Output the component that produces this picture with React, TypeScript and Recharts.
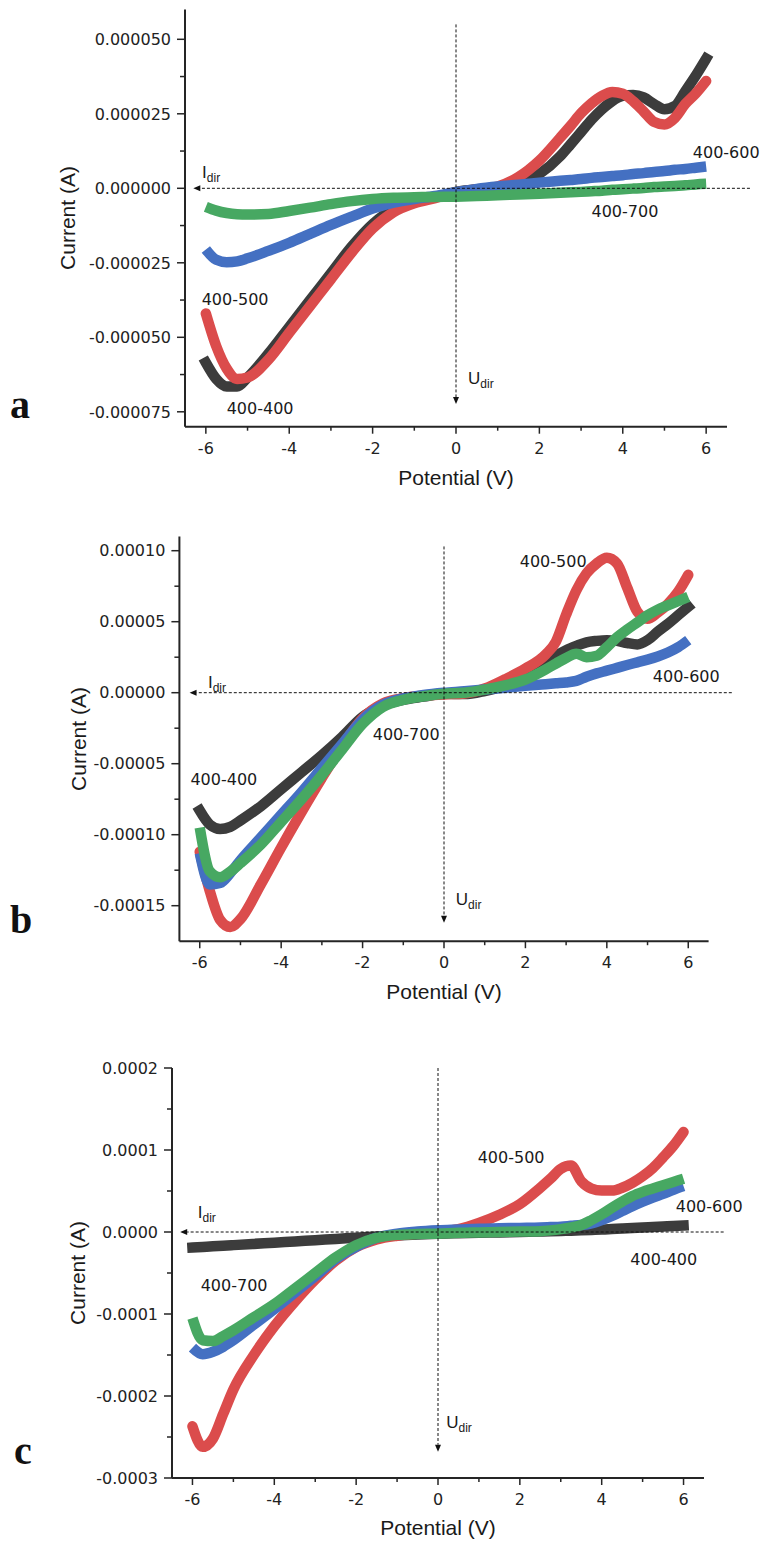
import React from 'react';
import { LineChart, Line, XAxis, YAxis, ReferenceLine, ReferenceDot } from 'recharts';

// Potential sweep (V), shared by every series
const potentials = [-6, -5.75, -5.5, -5.25, -5, -4.5, -4, -3.5, -3, -2.5, -2, -1.5, -1, -0.5, 0, 0.5, 1, 1.5, 2, 2.5, 2.75, 3, 3.25, 3.5, 3.75, 4, 4.25, 4.5, 4.75, 5, 5.25, 5.5, 5.75, 6];

// Panel a currents (µA)
const aBlack = [-58.5, -64, -66.5, -66.5, -63.5, -55.5, -46.5, -37.5, -28.5, -19.5, -12, -7, -4.5, -3, -1.2, -0.3, 0.1, 1.3, 4.8, 10.8, 14.8, 18.9, 23, 26.5, 29.3, 31, 31.3, 30.5, 28.3, 26.5, 27.6, 32.6, 37.8, 43.5];
const aRed = [-42, -53, -60.5, -64, -63.5, -57.5, -48.5, -39.5, -30.5, -21.5, -13.5, -8, -5, -3.3, -1.5, -0.4, 0.6, 3.8, 9.3, 17, 21, 25.2, 28.5, 31, 32.3, 31.7, 29.2, 25.8, 22.3, 21.4, 23.6, 28.3, 31.8, 36];
const aBlue = [-20.5, -24, -24.8, -24.5, -23.5, -21, -18.3, -15.3, -12.3, -9.5, -6.8, -4.8, -3.6, -2.6, -1.3, -0.2, 0.6, 1.2, 1.9, 2.5, 2.8, 3.1, 3.5, 3.8, 4.1, 4.4, 4.8, 5.1, 5.5, 5.8, 6.2, 6.5, 6.9, 7.3];
const aGreen = [-6.2, -7.5, -8.3, -8.7, -8.8, -8.6, -7.6, -6.5, -5.3, -4.3, -3.6, -3.2, -3.0, -2.9, -2.8, -2.6, -2.3, -2.1, -1.8, -1.5, -1.35, -1.2, -1, -0.8, -0.5, -0.3, -0.1, 0.1, 0.4, 0.6, 0.8, 1.0, 1.3, 1.5];

// Panel b currents (µA)
const bBlack = [-83, -93, -96, -94.5, -90, -80, -68, -56, -44, -31, -17, -9, -5, -2.8, -0.8, -1.0, 1.2, 5, 12, 21, 26, 30, 33, 35.5, 36.5, 37, 36.5, 35, 34, 37, 43, 48.5, 54.5, 60.5];
const bRed = [-112, -140, -160, -165, -159.5, -135, -109, -84, -60, -37.5, -18, -7.5, -3.8, -2, -1.2, -0.5, 3, 9.5, 17, 27, 36, 55, 72, 84, 91, 95, 91, 74, 57, 52, 56.5, 62.5, 71, 83];
const bBlue = [-113, -135, -134, -127, -118, -102, -86, -70, -53, -36, -19, -8.5, -4, -1.5, 0, 1, 2.2, 3.5, 4.8, 6, 6.6, 7.2, 8.3, 11.2, 13.6, 15.5, 17.5, 19.5, 21.4, 23.3, 25.5, 28.3, 32, 37];
const bGreen = [-95, -126, -130, -126, -120, -107, -91, -75, -58, -40, -22, -10, -5, -2.5, -0.8, 0, 2.2, 5.2, 9.3, 16.5, 20.5, 24.5, 27.5, 25, 26, 32, 39, 44.5, 49.5, 54.5, 58.5, 61.5, 64.5, 67.5];

// Panel c currents (µA)
const cBlack = [-19, -18.3, -17.5, -16.8, -16, -14.5, -13, -11.5, -10, -8.5, -7, -5.5, -4.3, -3.2, -2.2, -1.5, -1, -0.5, 0, 0.5, 0.8, 1.2, 1.6, 2, 2.5, 3, 3.6, 4.2, 4.8, 5.4, 6, 6.7, 7.3, 8];
const cRed = [-237, -262, -252, -222, -192, -150, -115, -85, -58, -35, -18.5, -9, -4.5, -2, 0, 3.5, 11, 21, 34, 54, 65, 77, 81, 62, 53, 50.5, 50.5, 54, 60, 68, 78, 91, 105, 122];
const cBlue = [-141, -149, -146, -140, -132, -113, -94, -74, -54, -33, -18, -7, -2, 0.5, 2, 3, 4, 4.5, 5, 5.5, 6, 6.5, 7.5, 8.5, 10.5, 14.5, 19.5, 25.5, 31.5, 37, 42, 46.5, 51.5, 56];
const cGreen = [-105, -132, -133, -127, -120, -104, -88, -69, -50, -31, -16, -7, -3.5, -2.5, -2, -1, -0.5, 0, 0.5, 1, 2, 3.5, 5.5, 8.5, 14.5, 21.5, 29.5, 37, 44, 49, 53, 57, 61, 65];

// Axis ticks
const xTicks = [-6, -5, -4, -3, -2, -1, 0, 1, 2, 3, 4, 5, 6];
const xMajor = [-6, -4, -2, 0, 2, 4, 6];
const aYTicks = [-75, -62.5, -50, -37.5, -25, -12.5, 0, 12.5, 25, 37.5, 50];
const aYMajor = [-75, -50, -25, 0, 25, 50];
const aYLabels = ['-0.000075', '-0.000050', '-0.000025', '0.000000', '0.000025', '0.000050'];
const bYTicks = [-150, -125, -100, -75, -50, -25, 0, 25, 50, 75, 100];
const bYMajor = [-150, -100, -50, 0, 50, 100];
const bYLabels = ['-0.00015', '-0.00010', '-0.00005', '0.00000', '0.00005', '0.00010'];
const cYTicks = [-300, -250, -200, -150, -100, -50, 0, 50, 100, 150, 200];
const cYMajor = [-300, -200, -100, 0, 100, 200];
const cYLabels = ['-0.0003', '-0.0002', '-0.0001', '0.0000', '0.0001', '0.0002'];

const seriesNames = ['400-400', '400-500', '400-600', '400-700'];
const COLORS = ['#3c3c3c', '#db4c4c', '#4470c2', '#47a862'];
const CAPS: ('square' | 'round' | 'butt')[] = ['square', 'round', 'butt', 'butt'];

const TICK_FONT = '"DejaVu Sans", sans-serif';
const TITLE_FONT = '"Liberation Sans", Arial, sans-serif';
const AXIS = '#252525';

const build = (vals: number[]) => potentials.map((v, k) => ({ v, i: vals[k] }));

const makeXTick = () => (props: any) => {
  const { x, y, payload } = props;
  const v = payload.value;
  const major = xMajor.includes(v);
  return (
    <g>
      <line x1={x} x2={x} y1={y} y2={y + (major ? 7 : 4)} stroke={AXIS} strokeWidth={1.5} />
      {major && (
        <text x={x} y={y + 27} textAnchor="middle" fontFamily={TICK_FONT} fontSize={16} fill="#222">
          {String(v)}
        </text>
      )}
    </g>
  );
};

const makeYTick = (majors: number[], labels: string[]) => (props: any) => {
  const { x, y, payload } = props;
  const v = payload.value;
  const idx = majors.indexOf(v);
  return (
    <g>
      <line x1={x} x2={x - (idx >= 0 ? 8 : 5)} y1={y} y2={y} stroke={AXIS} strokeWidth={1.5} />
      {idx >= 0 && (
        <text x={x - 14} y={y} dy="0.36em" textAnchor="end" fontFamily={TICK_FONT} fontSize={16} fill="#222">
          {labels[idx]}
        </text>
      )}
    </g>
  );
};

const arrowLine = (p: any) => {
  const { x1, y1, x2, y2 } = p;
  const dx = x2 - x1;
  const dy = y2 - y1;
  const len = Math.hypot(dx, dy) || 1;
  const ux = dx / len;
  const uy = dy / len;
  const L = 7;
  const W = 3;
  const bx = x2 - ux * L;
  const by = y2 - uy * L;
  const pts = `${x2},${y2} ${bx - uy * W},${by + ux * W} ${bx + uy * W},${by - ux * W}`;
  return (
    <g>
      <line x1={x1} y1={y1} x2={bx} y2={by} stroke="#111" strokeWidth={1} strokeDasharray="3 2" />
      <polygon points={pts} fill="#111" />
    </g>
  );
};

const plainLabel = (text: string) => (p: any) => (
  <text x={p.cx} y={p.cy} fontFamily={TICK_FONT} fontSize={16} fill="#1a1a1a">
    {text}
  </text>
);

const subLabel = (main: string, sub: string) => (p: any) => (
  <text x={p.cx} y={p.cy} fontFamily={TITLE_FONT} fontSize={17} fill="#1a1a1a">
    {main}
    <tspan fontSize={12} dy={4}>{sub}</tspan>
  </text>
);

type PanelProps = {
  top: number;
  height: number;
  margin: { top: number; right: number; bottom: number; left: number };
  yDomain: [number, number];
  yTicks: number[];
  yMajor: number[];
  yLabels: string[];
  series: number[][];
  hLine: [number, number];
  vLine: [number, number];
  iDir: [number, number];
  uDir: [number, number];
  names: [number, number][];
};

function Panel(props: PanelProps) {
  const { top, height, margin, yDomain, yTicks, yMajor, yLabels, series, hLine, vLine, iDir, uDir, names } = props;
  return (
    <div style={{ position: 'absolute', left: 0, top, width: 774, height }}>
      <LineChart width={774} height={height} margin={margin}>
        <XAxis
          type="number"
          dataKey="v"
          domain={[-6.5, 6.5]}
          ticks={xTicks}
          allowDataOverflow
          height={40}
          tickSize={0}
          tickMargin={0}
          tickLine={false}
          interval={0}
          axisLine={{ stroke: AXIS, strokeWidth: 2 }}
          tick={makeXTick()}
        />
        <YAxis
          type="number"
          domain={yDomain}
          ticks={yTicks}
          allowDataOverflow
          width={60}
          tickSize={0}
          tickMargin={0}
          tickLine={false}
          interval={0}
          axisLine={{ stroke: AXIS, strokeWidth: 2 }}
          tick={makeYTick(yMajor, yLabels)}
        />
        {series.map((vals, k) => (
          <Line
            key={seriesNames[k]}
            name={seriesNames[k]}
            data={build(vals)}
            dataKey="i"
            type="monotone"
            stroke={COLORS[k]}
            strokeWidth={10.5}
            strokeLinecap={CAPS[k]}
            strokeLinejoin="round"
            dot={false}
            activeDot={false}
            isAnimationActive={false}
          />
        ))}
        <ReferenceLine
          segment={[{ x: hLine[1], y: 0 }, { x: hLine[0], y: 0 }]}
          ifOverflow="visible"
          shape={arrowLine}
        />
        <ReferenceLine
          segment={[{ x: 0, y: vLine[0] }, { x: 0, y: vLine[1] }]}
          ifOverflow="visible"
          shape={arrowLine}
        />
        <ReferenceDot x={iDir[0]} y={iDir[1]} r={0} ifOverflow="visible" shape={subLabel('I', 'dir')} />
        <ReferenceDot x={uDir[0]} y={uDir[1]} r={0} ifOverflow="visible" shape={subLabel('U', 'dir')} />
        {names.map((pos, k) => (
          <ReferenceDot
            key={'n' + k}
            x={pos[0]}
            y={pos[1]}
            r={0}
            ifOverflow="visible"
            shape={plainLabel(seriesNames[k])}
          />
        ))}
      </LineChart>
    </div>
  );
}

export default function App() {
  return (
    <div style={{ position: 'absolute', left: 0, top: 0, width: 774, height: 1553, background: '#fff', overflow: 'hidden' }}>
      <Panel
        top={0}
        height={480}
        margin={{ top: 9.5, right: 47, bottom: 13.3, left: 125 }}
        yDomain={[-80, 60]}
        yTicks={aYTicks}
        yMajor={aYMajor}
        yLabels={aYLabels}
        series={[aBlack, aRed, aBlue, aGreen]}
        hLine={[-6.3, 7.05]}
        vLine={[55, -72.4]}
        iDir={[-6.09, 3.5]}
        uDir={[0.29, -65.7]}
        names={[[-5.5, -75.9], [-6.1, -39], [5.68, 10.2], [3.25, -9.6]]}
      />
      <Panel
        top={520}
        height={480}
        margin={{ top: 16.5, right: 65.4, bottom: 18.8, left: 119.4 }}
        yDomain={[-175, 110]}
        yTicks={bYTicks}
        yMajor={bYMajor}
        yLabels={bYLabels}
        series={[bBlack, bRed, bBlue, bGreen]}
        hLine={[-6.25, 7.07]}
        vLine={[103, -162]}
        iDir={[-5.8, 3.3]}
        uDir={[0.29, -149.5]}
        names={[[-6.23, -65], [1.86, 88.7], [5.13, 7.8], [-1.75, -33.3]]}
      />
      <Panel
        top={1050}
        height={500}
        margin={{ top: 18, right: 70, bottom: 32, left: 112 }}
        yDomain={[-300, 200]}
        yTicks={cYTicks}
        yMajor={cYMajor}
        yLabels={cYLabels}
        series={[cBlack, cRed, cBlue, cGreen]}
        hLine={[-6.3, 6.98]}
        vLine={[200, -268]}
        iDir={[-5.87, 16.7]}
        uDir={[0.2, -239]}
        names={[[4.7, -40.2], [0.97, 83.8], [5.81, 24.8], [-5.8, -71.6]]}
      />
      <svg width={774} height={1553} style={{ position: 'absolute', left: 0, top: 0, pointerEvents: 'none' }}>
        <g fontFamily={TITLE_FONT} fontSize={21} fill="#1a1a1a">
          <text transform="translate(75,218) rotate(-90)" textAnchor="middle">Current (A)</text>
          <text transform="translate(86,739) rotate(-90)" textAnchor="middle">Current (A)</text>
          <text transform="translate(85,1273) rotate(-90)" textAnchor="middle">Current (A)</text>
          <text x={456} y={485} textAnchor="middle">Potential (V)</text>
          <text x={444} y={999} textAnchor="middle">Potential (V)</text>
          <text x={438} y={1535} textAnchor="middle">Potential (V)</text>
        </g>
        <g fontFamily='"Liberation Serif", "DejaVu Serif", serif' fontWeight="bold" fontSize={40} fill="#111">
          <text x={10} y={418}>a</text>
          <text x={10} y={933}>b</text>
          <text x={14} y={1464}>c</text>
        </g>
      </svg>
    </div>
  );
}
